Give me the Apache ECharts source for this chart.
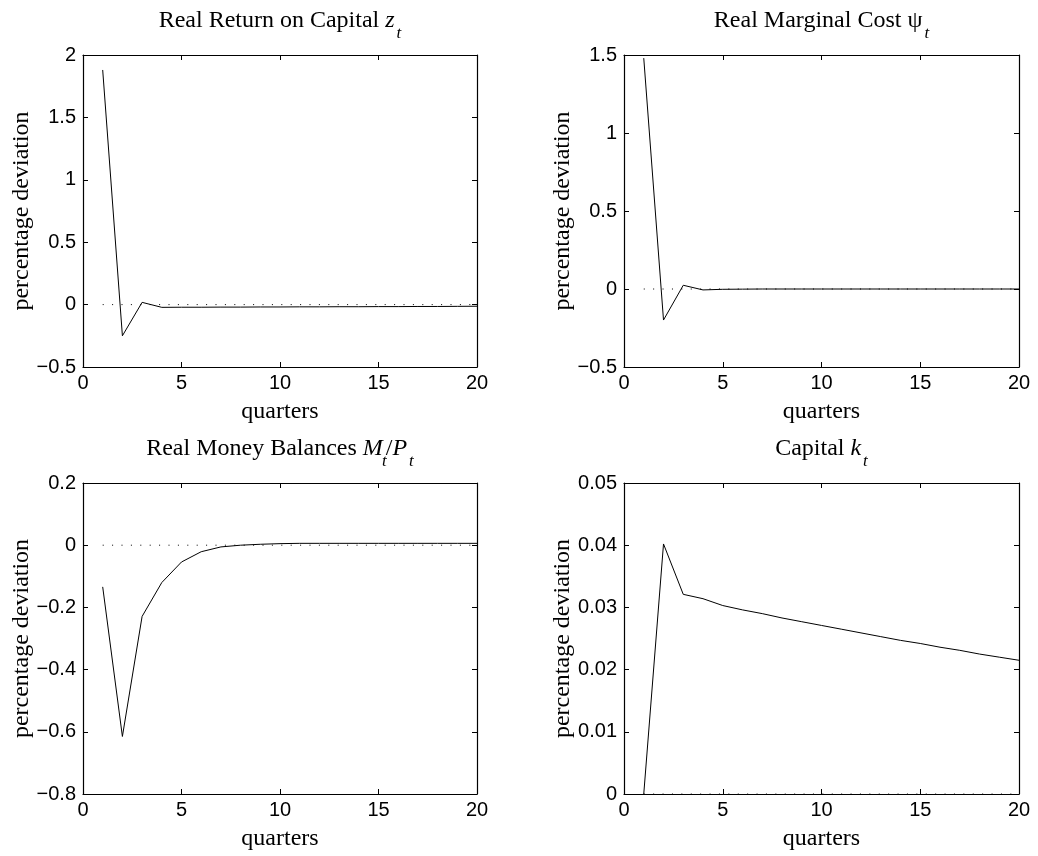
<!DOCTYPE html>
<html>
<head>
<meta charset="utf-8">
<script src="https://cdn.jsdelivr.net/npm/echarts@6/dist/echarts.min.js"></script>
<style>
  html, body { margin: 0; padding: 0; background: #fff; }
  #chart { width: 1038px; height: 856px; }
</style>
</head>
<body>
<div id="chart"></div>
<script>
// Impulse responses over 20 quarters (percentage deviation from steady state)
const quarters = [1, 2, 3, 4, 5, 6, 7, 8, 9, 10, 11, 12, 13, 14, 15, 16, 17, 18, 19, 20];

const returnOnCapital = [1.88, -0.25, 0.018, -0.022, -0.021, -0.021, -0.020, -0.020, -0.019, -0.019,
  -0.018, -0.018, -0.017, -0.017, -0.016, -0.016, -0.015, -0.015, -0.014, -0.013];

const marginalCost = [1.48, -0.199, 0.024, -0.006, -0.002, -0.001, 0.0, 0.0, 0.0, 0.0,
  0.0, 0.0, 0.0, 0.0, 0.0, 0.0, 0.0, 0.0, 0.0, 0.0];

const realMoney = [-0.134, -0.615, -0.229, -0.12, -0.054, -0.021, -0.0055, 0.0, 0.003, 0.005,
  0.006, 0.006, 0.006, 0.006, 0.006, 0.006, 0.006, 0.006, 0.006, 0.006];

const capital = [0.0, 0.0402, 0.0321, 0.0314, 0.0303, 0.0296, 0.0290, 0.0283, 0.0277, 0.0271,
  0.0265, 0.0259, 0.0253, 0.0247, 0.0242, 0.0236, 0.0231, 0.0225, 0.0220, 0.0215];

// Reference line at zero, drawn from the first to the last quarter
const zeroLine = [[1, 0], [20, 0]];

// Axis ranges: [min, max, interval]
const xRange = [0, 20, 5];
const yRanges = [
  [-0.5, 2, 0.5],
  [-0.5, 1.5, 0.5],
  [-0.8, 0.2, 0.2],
  [0, 0.05, 0.01]
];

const panelSeries = [returnOnCapital, marginalCost, realMoney, capital];

const titles = [
  '{n|Real Return on Capital }{i|z}{s|t}',
  '{n|Real Marginal Cost \u03c8}{s|t}',
  '{n|Real Money Balances }{i|M}{s2|t}{n|/}{i|P}{s|t}',
  '{n|Capital }{i|k}{s|t}'
];

const grids = [
  { left: 83, top: 55, width: 394, height: 312 },
  { left: 624, top: 55, width: 395, height: 312 },
  { left: 83, top: 483, width: 394, height: 311 },
  { left: 624, top: 483, width: 395, height: 311 }
];

const SERIF = '"Liberation Serif", "Times New Roman", serif';
const SANS = '"Liberation Sans", Arial, Helvetica, sans-serif';

function fmt(v) {
  let s = String(Math.round(v * 1000) / 1000);
  return s.replace('-', '\u2212');
}

const xAxes = [];
const yAxes = [];
const series = [];
const graphics = [];

const axisLineStyle = { color: '#000', width: 1.2 };
const tickStyle = { color: '#000', width: 1 };

grids.forEach((g, i) => {
  const yr = yRanges[i];
  // bottom / left axes with labels
  xAxes.push({
    gridIndex: i, type: 'value', position: 'bottom',
    min: xRange[0], max: xRange[1], interval: xRange[2],
    axisLine: { show: true, onZero: false, lineStyle: axisLineStyle },
    axisTick: { show: true, inside: true, length: 5, lineStyle: tickStyle },
    axisLabel: { color: '#000', fontFamily: SANS, fontSize: 20, margin: 6 },
    splitLine: { show: false }
  });
  yAxes.push({
    gridIndex: i, type: 'value', position: 'left',
    min: yr[0], max: yr[1], interval: yr[2],
    axisLine: { show: true, onZero: false, lineStyle: axisLineStyle },
    axisTick: { show: true, inside: true, length: 5, lineStyle: tickStyle },
    axisLabel: { color: '#000', fontFamily: SANS, fontSize: 20, margin: 7, formatter: fmt },
    splitLine: { show: false }
  });
  // top / right axes closing the box
  xAxes.push({
    gridIndex: i, type: 'value', position: 'top',
    min: xRange[0], max: xRange[1], interval: xRange[2],
    axisLine: { show: true, onZero: false, lineStyle: axisLineStyle },
    axisTick: { show: true, inside: true, length: 5, lineStyle: tickStyle },
    axisLabel: { show: false },
    splitLine: { show: false }
  });
  yAxes.push({
    gridIndex: i, type: 'value', position: 'right',
    min: yr[0], max: yr[1], interval: yr[2],
    axisLine: { show: true, onZero: false, lineStyle: axisLineStyle },
    axisTick: { show: true, inside: true, length: 5, lineStyle: tickStyle },
    axisLabel: { show: false },
    splitLine: { show: false }
  });

  const xi = i * 2, yi = i * 2;
  series.push({
    type: 'line', xAxisIndex: xi, yAxisIndex: yi,
    data: zeroLine, showSymbol: false, silent: true,
    lineStyle: { color: '#000', width: 1, type: [1, 8.4] },
    z: 1
  });
  series.push({
    type: 'line', xAxisIndex: xi, yAxisIndex: yi,
    data: quarters.map((q, k) => [q, panelSeries[i][k]]),
    showSymbol: false, silent: true, clip: true,
    lineStyle: { color: '#000', width: 1 },
    z: 2
  });

  const cx = g.left + g.width / 2;
  const cy = g.top + g.height / 2;
  // panel title
  graphics.push({
    type: 'text', x: cx, y: g.top - 34,
    style: {
      text: titles[i], align: 'center', verticalAlign: 'middle',
      fill: '#000',
      rich: {
        n: { fontFamily: SERIF, fontSize: 24, fill: '#000', verticalAlign: 'middle' },
        i: { fontFamily: SERIF, fontSize: 24, fontStyle: 'italic', fill: '#000', verticalAlign: 'middle' },
        s: { fontFamily: SERIF, fontSize: 17, fontStyle: 'italic', fill: '#000', verticalAlign: 'middle', padding: [26, 0, 0, 2] },
        s2: { fontFamily: SERIF, fontSize: 17, fontStyle: 'italic', fill: '#000', verticalAlign: 'middle', padding: [26, 0, 0, 0], width: 3 }
      }
    }
  });
  // x axis name
  graphics.push({
    type: 'text', x: cx, y: g.top + g.height + 45,
    style: { text: 'quarters', fontFamily: SERIF, fontSize: 24, fill: '#000', align: 'center', verticalAlign: 'middle' }
  });
  // y axis name
  graphics.push({
    type: 'text', x: g.left - 61, y: cy, rotation: Math.PI / 2,
    style: { text: 'percentage deviation', fontFamily: SERIF, fontSize: 24, fill: '#000', align: 'center', verticalAlign: 'middle' }
  });
});

const chart = echarts.init(document.getElementById('chart'), null, { renderer: 'canvas' });
chart.setOption({
  backgroundColor: '#fff',
  animation: false,
  grid: grids,
  xAxis: xAxes,
  yAxis: yAxes,
  series: series,
  graphic: graphics
});
</script>
</body>
</html>
